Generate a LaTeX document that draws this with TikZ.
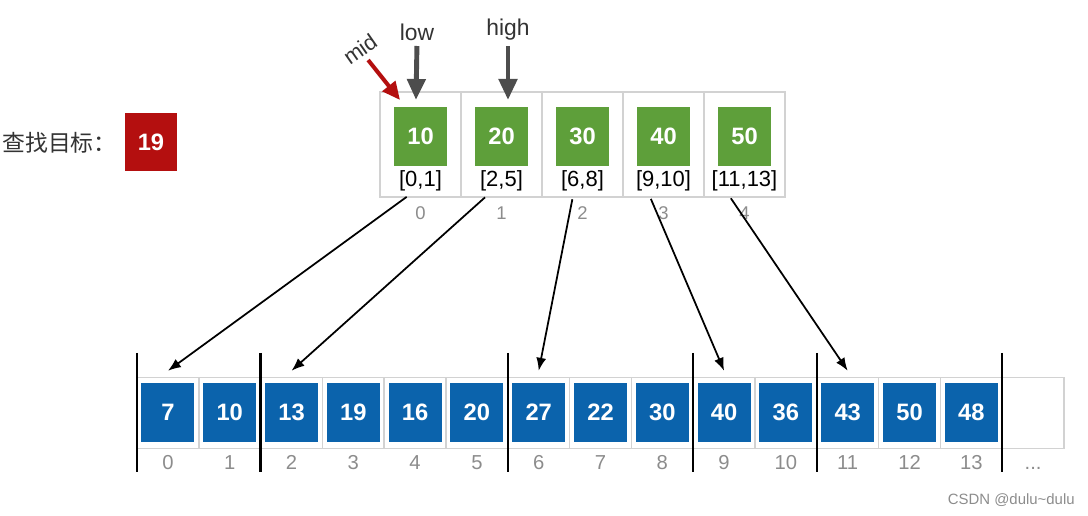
\documentclass[tikz,border=0pt]{standalone}
\usepackage{fontspec}
\setmainfont{Liberation Sans}
\newfontfamily\cjk{Noto Sans CJK SC}
\usetikzlibrary{arrows.meta}

\definecolor{idxgreen}{HTML}{5E9F3A}
\definecolor{arrblue}{HTML}{0B63AC}
\definecolor{tgtred}{HTML}{B40F0F}
\definecolor{ptrgray}{HTML}{4D4D4D}
\definecolor{linegray}{HTML}{D2D2D2}
\definecolor{numgray}{HTML}{8C8C8C}

\tikzset{
  topcell/.style={draw=linegray,line width=0.8pt,minimum width=1.62cm,minimum height=2.1cm,inner sep=0pt},
  botcell/.style={draw=linegray,line width=0.8pt,minimum width=1.236cm,minimum height=1.42cm,inner sep=0pt},
  keybox/.style={fill=idxgreen,text=white,minimum width=1.06cm,minimum height=1.18cm,inner sep=0pt,
    font=\fontsize{13.5}{16}\selectfont\bfseries},
  valbox/.style={keybox,fill=arrblue},
  rangelab/.style={inner sep=1pt,font=\fontsize{12.5}{15}\selectfont},
  idxlab/.style={text=numgray,inner sep=1pt,text height=0.72em,text depth=0pt,font=\fontsize{10.5}{12}\selectfont},
  ptrlab/.style={text=black!80,inner sep=1pt,font=\fontsize{13}{15}\selectfont},
  ptr/.style={ptrgray,line width=2.8pt,-{Triangle[length=0.42cm,width=0.36cm]}},
  midptr/.style={tgtred,line width=2.3pt,-{Triangle[length=0.36cm,width=0.32cm]}},
  link/.style={line width=1pt,-{Latex[length=0.26cm,width=0.2cm]}},
  sepbar/.style={line width=1.3pt}
}

\begin{document}
\begin{tikzpicture}[x=0.02cm,y=-0.02cm]
  \useasboundingbox (0,0) rectangle (1088,516);

  % target
  \node[anchor=west,inner sep=0pt,text=black!80,font=\cjk\fontsize{13}{15}\selectfont] (goal) at (2,143) {查找目标：};
  \node[keybox,fill=tgtred,minimum width=1.04cm,minimum height=1.16cm] (target) at (151,142) {19};

  % index table
  \foreach \v/\r [count=\i from 0] in {10/{[0,1]},20/{[2,5]},30/{[6,8]},40/{[9,10]},50/{[11,13]}}{
    \node[topcell] (top\i) at ({420.5+81*\i},144.5) {};
    \node[keybox] (key\i) at ({420.5+81*\i},136.5) {\v};
    \node[rangelab] (rng\i) at ({420.5+81*\i},181) {\r};
    \node[idxlab] (tidx\i) at ({420.5+81*\i},213) {\i};
  }

  % pointers
  \node[ptrlab] (low) at (417,32) {low};
  \node[ptrlab] (high) at (508,30) {high};
  \node[ptrlab,inner sep=0pt,font=\fontsize{12.5}{14}\selectfont,rotate=35] (mid) at (360,49) {mid};
  \coordinate (lowtip) at (416,100);
  \coordinate (hightip) at (508,100);
  \coordinate (midtip) at (400,100);
  \draw[ptr,shorten <=2pt] (low.south) -- (lowtip);
  \draw[ptr,shorten <=2pt] (high.south) -- (hightip);
  \draw[midptr,shorten <=3pt] (mid.south) -- (midtip);

  % data array
  \foreach \v [count=\i from 0] in {7,10,13,19,16,20,27,22,30,40,36,43,50,48}{
    \node[botcell] (cell\i) at ({167.9+61.8*\i},413) {};
    \node[valbox] (val\i) at ({167.9+61.8*\i},412.5) {\v};
    \node[idxlab,font=\fontsize{11.5}{13}\selectfont] (bidx\i) at ({167.9+61.8*\i},463) {\i};
  }
  \node[botcell] (cell14) at ({167.9+61.8*14},413) {};
  \node[idxlab,font=\fontsize{11.5}{13}\selectfont] (more) at (cell14 |- bidx0) {...};

  % block borders
  \foreach \k in {0,2,6,9,11,14}
    \draw[sepbar] ({137+61.8*\k},353) -- ({137+61.8*\k},472);

  % links from index to blocks
  \foreach \i/\k/\dx in {0/0/-0.18,1/2/-0.24,2/6/-0.18,3/9/-0.3,4/11/-0.34}
    \draw[link,shorten <=0.12cm] ([xshift=\dx cm]rng\i.south) -- ([yshift=0.12cm]cell\k.north);

  \node[anchor=east,text=numgray,inner sep=0pt,font=\fontsize{8.5}{10}\selectfont] (mark) at (1075,500) {CSDN @dulu\textasciitilde dulu};
\end{tikzpicture}
\end{document}
